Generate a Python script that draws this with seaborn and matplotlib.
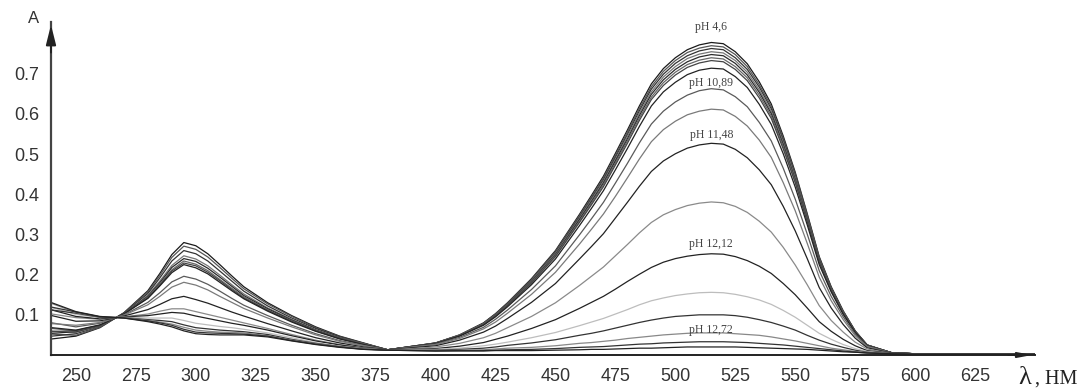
import matplotlib
matplotlib.use("Agg")
import matplotlib.pyplot as plt
import seaborn as sns
import pandas as pd

# wavelength grid (nm)
wavelength = [240, 250, 260, 270, 280, 285, 290, 295, 300, 305, 310, 315, 320, 330, 340, 350, 360, 370,
              380, 400, 410, 420, 425, 430, 440, 450, 460, 465, 470, 475, 480, 485, 490, 495, 500, 505, 510, 515,
              520, 525, 530, 535, 540, 545, 550, 555, 560, 565, 570, 575, 580, 590, 600, 650]

# absorbance spectra (top = pH 4,6 ... bottom = pH 12,72)
spec_01 = [0.040, 0.047, 0.068, 0.105, 0.160, 0.203, 0.250, 0.280, 0.272, 0.252, 0.225, 0.197, 0.170, 0.130, 0.098, 0.070, 0.047, 0.030,
           0.013, 0.030, 0.050, 0.080, 0.103, 0.130, 0.190, 0.260, 0.350, 0.397, 0.445, 0.502, 0.560, 0.620, 0.675, 0.713, 0.740, 0.760, 0.772, 0.778,
           0.775, 0.755, 0.725, 0.680, 0.625, 0.545, 0.455, 0.352, 0.245, 0.170, 0.110, 0.060, 0.025, 0.006, 0.003, 0.002]
spec_02 = [0.052, 0.049, 0.069, 0.105, 0.157, 0.198, 0.243, 0.271, 0.263, 0.244, 0.218, 0.191, 0.165, 0.127, 0.096, 0.068, 0.046, 0.029,
           0.013, 0.030, 0.050, 0.079, 0.102, 0.129, 0.188, 0.258, 0.347, 0.393, 0.441, 0.497, 0.555, 0.614, 0.668, 0.706, 0.733, 0.753, 0.764, 0.770,
           0.767, 0.748, 0.718, 0.673, 0.619, 0.540, 0.451, 0.349, 0.243, 0.168, 0.109, 0.060, 0.025, 0.006, 0.003, 0.002]
spec_03 = [0.047, 0.053, 0.071, 0.104, 0.153, 0.192, 0.234, 0.260, 0.252, 0.234, 0.209, 0.184, 0.159, 0.122, 0.092, 0.066, 0.045, 0.029,
           0.013, 0.030, 0.049, 0.079, 0.101, 0.128, 0.186, 0.255, 0.343, 0.389, 0.436, 0.492, 0.549, 0.608, 0.662, 0.699, 0.726, 0.745, 0.757, 0.763,
           0.760, 0.740, 0.711, 0.667, 0.613, 0.534, 0.446, 0.345, 0.240, 0.167, 0.108, 0.059, 0.025, 0.006, 0.003, 0.002]
spec_04 = [0.060, 0.056, 0.072, 0.103, 0.149, 0.184, 0.223, 0.247, 0.239, 0.222, 0.199, 0.175, 0.152, 0.117, 0.089, 0.063, 0.043, 0.028,
           0.013, 0.029, 0.049, 0.078, 0.100, 0.126, 0.185, 0.253, 0.340, 0.386, 0.432, 0.487, 0.544, 0.602, 0.655, 0.692, 0.718, 0.738, 0.749, 0.755,
           0.752, 0.733, 0.704, 0.660, 0.607, 0.529, 0.442, 0.342, 0.238, 0.165, 0.107, 0.058, 0.024, 0.006, 0.003, 0.002]
spec_05 = [0.054, 0.058, 0.073, 0.103, 0.146, 0.180, 0.218, 0.240, 0.233, 0.216, 0.194, 0.171, 0.148, 0.115, 0.087, 0.062, 0.042, 0.027,
           0.013, 0.029, 0.048, 0.077, 0.099, 0.125, 0.183, 0.250, 0.337, 0.382, 0.428, 0.483, 0.538, 0.596, 0.649, 0.685, 0.711, 0.730, 0.742, 0.748,
           0.745, 0.726, 0.697, 0.654, 0.601, 0.524, 0.437, 0.339, 0.236, 0.164, 0.106, 0.058, 0.024, 0.006, 0.003, 0.002]
spec_06 = [0.066, 0.060, 0.074, 0.102, 0.144, 0.177, 0.212, 0.234, 0.226, 0.210, 0.188, 0.166, 0.145, 0.112, 0.085, 0.061, 0.041, 0.027,
           0.013, 0.029, 0.048, 0.077, 0.098, 0.124, 0.181, 0.248, 0.333, 0.378, 0.424, 0.478, 0.533, 0.590, 0.642, 0.678, 0.704, 0.723, 0.734, 0.740,
           0.737, 0.718, 0.690, 0.647, 0.595, 0.519, 0.433, 0.335, 0.233, 0.162, 0.105, 0.057, 0.024, 0.006, 0.003, 0.002]
spec_07 = [0.058, 0.061, 0.074, 0.102, 0.142, 0.174, 0.209, 0.229, 0.222, 0.206, 0.185, 0.163, 0.142, 0.111, 0.084, 0.060, 0.041, 0.026,
           0.013, 0.029, 0.048, 0.076, 0.097, 0.123, 0.179, 0.245, 0.330, 0.374, 0.419, 0.473, 0.527, 0.584, 0.636, 0.671, 0.697, 0.716, 0.727, 0.733,
           0.730, 0.711, 0.683, 0.640, 0.589, 0.513, 0.429, 0.332, 0.231, 0.160, 0.104, 0.057, 0.024, 0.006, 0.003, 0.002]
spec_08 = [0.068, 0.062, 0.075, 0.102, 0.141, 0.172, 0.205, 0.225, 0.217, 0.202, 0.181, 0.160, 0.140, 0.109, 0.082, 0.059, 0.040, 0.026,
           0.013, 0.028, 0.047, 0.074, 0.095, 0.120, 0.175, 0.239, 0.322, 0.365, 0.409, 0.461, 0.514, 0.569, 0.620, 0.655, 0.679, 0.698, 0.709, 0.714,
           0.712, 0.693, 0.666, 0.624, 0.574, 0.501, 0.418, 0.324, 0.225, 0.157, 0.101, 0.056, 0.023, 0.006, 0.003, 0.002]
spec_09 = [0.080, 0.070, 0.079, 0.100, 0.131, 0.155, 0.182, 0.196, 0.189, 0.176, 0.159, 0.141, 0.124, 0.098, 0.074, 0.053, 0.036, 0.024,
           0.013, 0.027, 0.044, 0.069, 0.089, 0.112, 0.163, 0.222, 0.299, 0.339, 0.380, 0.428, 0.477, 0.528, 0.575, 0.607, 0.630, 0.647, 0.658, 0.663,
           0.660, 0.643, 0.618, 0.579, 0.533, 0.465, 0.388, 0.301, 0.210, 0.146, 0.095, 0.052, 0.022, 0.006, 0.003, 0.002]
spec_10 = [0.078, 0.074, 0.081, 0.099, 0.125, 0.146, 0.169, 0.181, 0.174, 0.162, 0.146, 0.131, 0.116, 0.092, 0.070, 0.050, 0.034, 0.023,
           0.013, 0.026, 0.041, 0.065, 0.082, 0.104, 0.151, 0.206, 0.276, 0.313, 0.351, 0.395, 0.441, 0.488, 0.531, 0.561, 0.582, 0.598, 0.607, 0.612,
           0.610, 0.594, 0.570, 0.535, 0.492, 0.429, 0.359, 0.278, 0.194, 0.135, 0.088, 0.048, 0.021, 0.005, 0.003, 0.002]
spec_11 = [0.098, 0.084, 0.085, 0.097, 0.113, 0.126, 0.140, 0.146, 0.138, 0.129, 0.118, 0.107, 0.097, 0.078, 0.060, 0.043, 0.030, 0.020,
           0.013, 0.023, 0.037, 0.057, 0.072, 0.091, 0.131, 0.178, 0.239, 0.270, 0.302, 0.341, 0.380, 0.420, 0.457, 0.483, 0.501, 0.515, 0.523, 0.527,
           0.525, 0.512, 0.491, 0.461, 0.424, 0.370, 0.309, 0.240, 0.168, 0.117, 0.076, 0.042, 0.018, 0.005, 0.003, 0.002]
spec_12 = [0.102, 0.093, 0.089, 0.095, 0.102, 0.109, 0.115, 0.115, 0.108, 0.101, 0.094, 0.087, 0.080, 0.066, 0.051, 0.037, 0.026, 0.018,
           0.012, 0.020, 0.029, 0.043, 0.054, 0.068, 0.096, 0.130, 0.173, 0.196, 0.219, 0.247, 0.275, 0.304, 0.330, 0.349, 0.362, 0.372, 0.378, 0.381,
           0.379, 0.370, 0.355, 0.333, 0.306, 0.268, 0.224, 0.175, 0.123, 0.086, 0.057, 0.032, 0.015, 0.004, 0.002, 0.002]
spec_13 = [0.112, 0.096, 0.090, 0.095, 0.098, 0.102, 0.106, 0.104, 0.097, 0.091, 0.085, 0.079, 0.074, 0.062, 0.048, 0.035, 0.025, 0.017,
           0.012, 0.016, 0.022, 0.031, 0.039, 0.047, 0.066, 0.088, 0.116, 0.131, 0.146, 0.164, 0.183, 0.201, 0.218, 0.231, 0.240, 0.246, 0.250, 0.252,
           0.251, 0.245, 0.235, 0.221, 0.203, 0.178, 0.150, 0.117, 0.083, 0.059, 0.039, 0.023, 0.011, 0.004, 0.002, 0.002]
spec_14 = [0.118, 0.101, 0.093, 0.094, 0.092, 0.092, 0.092, 0.086, 0.079, 0.075, 0.071, 0.068, 0.064, 0.055, 0.043, 0.031, 0.022, 0.016,
           0.012, 0.014, 0.017, 0.023, 0.027, 0.032, 0.043, 0.056, 0.073, 0.082, 0.091, 0.102, 0.113, 0.125, 0.135, 0.142, 0.148, 0.152, 0.155, 0.156,
           0.155, 0.151, 0.145, 0.137, 0.126, 0.111, 0.094, 0.074, 0.054, 0.039, 0.026, 0.016, 0.009, 0.003, 0.002, 0.002]
spec_15 = [0.112, 0.104, 0.094, 0.093, 0.088, 0.086, 0.083, 0.075, 0.068, 0.065, 0.062, 0.060, 0.058, 0.051, 0.039, 0.029, 0.021, 0.015,
           0.012, 0.012, 0.014, 0.017, 0.020, 0.024, 0.030, 0.038, 0.049, 0.054, 0.060, 0.067, 0.074, 0.081, 0.087, 0.092, 0.096, 0.098, 0.100, 0.100,
           0.100, 0.098, 0.094, 0.088, 0.081, 0.072, 0.062, 0.049, 0.037, 0.027, 0.019, 0.012, 0.007, 0.003, 0.002, 0.002]
spec_16 = [0.128, 0.106, 0.095, 0.093, 0.086, 0.082, 0.077, 0.069, 0.062, 0.059, 0.057, 0.056, 0.055, 0.048, 0.037, 0.028, 0.020, 0.015,
           0.012, 0.011, 0.012, 0.013, 0.015, 0.017, 0.019, 0.023, 0.029, 0.031, 0.034, 0.037, 0.041, 0.044, 0.047, 0.050, 0.052, 0.054, 0.055, 0.055,
           0.055, 0.053, 0.051, 0.049, 0.045, 0.040, 0.035, 0.029, 0.023, 0.017, 0.013, 0.009, 0.006, 0.003, 0.002, 0.002]
spec_17 = [0.119, 0.107, 0.095, 0.092, 0.085, 0.080, 0.074, 0.064, 0.057, 0.055, 0.054, 0.053, 0.052, 0.047, 0.036, 0.027, 0.020, 0.014,
           0.012, 0.010, 0.011, 0.011, 0.012, 0.013, 0.014, 0.016, 0.019, 0.020, 0.021, 0.023, 0.025, 0.027, 0.028, 0.030, 0.031, 0.032, 0.033, 0.033,
           0.033, 0.032, 0.031, 0.029, 0.027, 0.025, 0.022, 0.019, 0.016, 0.013, 0.010, 0.007, 0.005, 0.003, 0.002, 0.002]
spec_18 = [0.130, 0.108, 0.096, 0.092, 0.083, 0.077, 0.070, 0.060, 0.053, 0.051, 0.050, 0.050, 0.050, 0.045, 0.035, 0.026, 0.019, 0.014,
           0.012, 0.010, 0.010, 0.010, 0.011, 0.011, 0.011, 0.012, 0.013, 0.014, 0.014, 0.015, 0.016, 0.017, 0.017, 0.018, 0.019, 0.020, 0.020, 0.020,
           0.020, 0.020, 0.019, 0.018, 0.017, 0.016, 0.015, 0.014, 0.012, 0.010, 0.008, 0.007, 0.005, 0.003, 0.002, 0.002]

spectra = [spec_01, spec_02, spec_03, spec_04, spec_05, spec_06, spec_07, spec_08, spec_09,
           spec_10, spec_11, spec_12, spec_13, spec_14, spec_15, spec_16, spec_17, spec_18]
for s in spectra:
    assert len(s) == len(wavelength)

line_colors = ["#1a1a1a", "#555555", "#333333", "#777777", "#2a2a2a", "#666666", "#444444", "#222222",
               "#5a5a5a", "#7a7a7a", "#222222", "#8a8a8a", "#222222", "#bdbdbd", "#333333", "#888888",
               "#333333", "#222222"]

# pH annotations: label text, index of the curve it marks (label sits over the 515 nm maximum)
ph_labels = ["pH 4,6", "pH 10,89", "pH 11,48", "pH 12,12", "pH 12,72"]
ph_curve = [0, 8, 10, 12, 15]
ph_offset_pts = [10.8, 4.3, 5.8, 7.2, 2.2]
label_wavelength = 515

x_ticks = [250, 275, 300, 325, 350, 375, 400, 425, 450, 475, 500, 525, 550, 575, 600, 625]
y_ticks = [0.1, 0.2, 0.3, 0.4, 0.5, 0.6, 0.7]

rows = []
for i, s in enumerate(spectra):
    for w, a in zip(wavelength, s):
        rows.append({"wl": w, "A": a, "curve": f"c{i:02d}"})
df = pd.DataFrame(rows)

sns.set_style("white")
plt.rcParams["font.family"] = ["Liberation Sans", "DejaVu Sans"]

fig = plt.figure(figsize=(10.87, 3.88), dpi=100)
ax = fig.add_axes([51 / 1087, 33 / 388, (1035 - 51) / 1087, (355 - 22) / 388])

palette = {f"c{i:02d}": c for i, c in enumerate(line_colors)}
sns.lineplot(data=df, x="wl", y="A", hue="curve", palette=palette, estimator=None,
             legend=False, linewidth=0.9, ax=ax)

ax.set_xlim(239.6, 650)
ax.set_ylim(0, 0.829)
ax.set_xticks(x_ticks)
ax.set_yticks(y_ticks)
ax.set_yticklabels([f"{v:.1f}" for v in y_ticks])
ax.set_xlabel("")
ax.set_ylabel("")
for side in ["top", "right"]:
    ax.spines[side].set_visible(False)
ax.spines["left"].set_color("#444444")
ax.spines["left"].set_linewidth(1.6)
ax.spines["bottom"].set_color("#222222")
ax.spines["bottom"].set_linewidth(1.4)
ax.tick_params(axis="both", direction="inout", length=9, width=1.2, colors="#333333",
               labelsize=13, labelcolor="#333333")
ax.tick_params(axis="x", pad=5)
ax.tick_params(axis="y", pad=4)

# axis arrows
ax.annotate("", xy=(0, 1.0), xytext=(0, 0.9), xycoords="axes fraction",
            arrowprops=dict(arrowstyle="-|>,head_length=1.2,head_width=0.3", color="#222222", lw=1.4))
ax.annotate("", xy=(1.0, 0), xytext=(0.97, 0), xycoords="axes fraction",
            arrowprops=dict(arrowstyle="-|>,head_length=0.8,head_width=0.15", color="#222222", lw=1.4))

ax.text(-0.012, 1.01, "A", transform=ax.transAxes, ha="right", va="center",
        fontsize=12, color="#333333")
serif = ["Liberation Serif", "DejaVu Serif"]
fig.text(1018 / 1087, 4 / 388, "λ", ha="left", va="baseline", fontsize=19,
         color="#222222", family=serif)
fig.text(1035 / 1087, 4 / 388, ", НМ", ha="left", va="baseline", fontsize=14.5,
         color="#222222", family=serif)

li = wavelength.index(label_wavelength)
for lab, ci, off in zip(ph_labels, ph_curve, ph_offset_pts):
    ax.annotate(lab, xy=(label_wavelength, spectra[ci][li]), xytext=(0, off),
                textcoords="offset points", ha="center", va="center", fontsize=8.5,
                color="#444444", family=serif)

fig.savefig("out.png", dpi=100)
